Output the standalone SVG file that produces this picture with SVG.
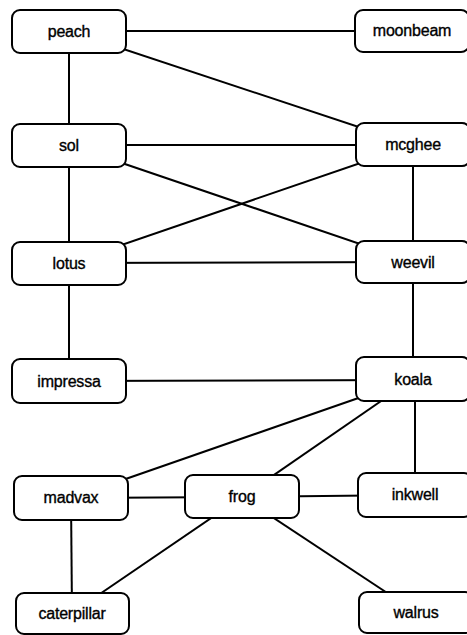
<svg xmlns="http://www.w3.org/2000/svg" width="467" height="635" viewBox="0 0 467 635">
<style>
  .edge { stroke: #000; stroke-width: 2; fill: none; }
  .box { fill: #fff; stroke: #000; stroke-width: 2; }
  .lbl { font-family: "Liberation Sans", Arial, sans-serif; font-size: 16px; fill: #000; stroke: #000; stroke-width: 0.35; text-anchor: middle; letter-spacing: -0.2px; }
</style>
<rect width="467" height="635" fill="#fff"/>
<g id="connectors">
  <line class="edge" x1="69" y1="31" x2="413" y2="31"/>
  <line class="edge" x1="69" y1="31" x2="69" y2="145"/>
  <line class="edge" x1="69" y1="31" x2="413" y2="145"/>
  <line class="edge" x1="69" y1="145" x2="413" y2="145"/>
  <line class="edge" x1="69" y1="145" x2="413" y2="262"/>
  <line class="edge" x1="413" y1="145" x2="69" y2="263"/>
  <line class="edge" x1="69" y1="145" x2="69" y2="263"/>
  <line class="edge" x1="413" y1="145" x2="413" y2="262"/>
  <line class="edge" x1="69" y1="263" x2="413" y2="262"/>
  <line class="edge" x1="69" y1="263" x2="69" y2="381"/>
  <line class="edge" x1="413" y1="262" x2="413" y2="379"/>
  <line class="edge" x1="69" y1="381" x2="413" y2="380"/>
  <line class="edge" x1="413" y1="379" x2="71" y2="498"/>
  <line class="edge" x1="413" y1="379" x2="242" y2="497"/>
  <line class="edge" x1="415" y1="379" x2="415" y2="495"/>
  <line class="edge" x1="71" y1="498" x2="242" y2="497"/>
  <line class="edge" x1="71" y1="498" x2="72" y2="613"/>
  <line class="edge" x1="242" y1="497" x2="72" y2="613"/>
  <line class="edge" x1="242" y1="497" x2="416" y2="495"/>
  <line class="edge" x1="242" y1="497" x2="416" y2="612"/>
</g>
<g id="peach"><rect class="box" x="12" y="10" width="114" height="43" rx="8"/><text class="lbl" x="69" y="37">peach</text></g>
<g id="moonbeam"><rect class="box" x="355" y="10" width="114" height="42" rx="8"/><text class="lbl" x="412" y="36">moonbeam</text></g>
<g id="sol"><rect class="box" x="12" y="124" width="114" height="43" rx="8"/><text class="lbl" x="69" y="151">sol</text></g>
<g id="mcghee"><rect class="box" x="356" y="123" width="114" height="43" rx="8"/><text class="lbl" x="413" y="150">mcghee</text></g>
<g id="lotus"><rect class="box" x="12" y="242" width="114" height="43" rx="8"/><text class="lbl" x="69" y="269">lotus</text></g>
<g id="weevil"><rect class="box" x="356" y="241" width="114" height="42" rx="8"/><text class="lbl" x="413" y="268">weevil</text></g>
<g id="impressa"><rect class="box" x="12" y="359" width="114" height="44" rx="8"/><text class="lbl" x="69" y="387">impressa</text></g>
<g id="koala"><rect class="box" x="356" y="357" width="114" height="44" rx="8"/><text class="lbl" x="413" y="385">koala</text></g>
<g id="madvax"><rect class="box" x="14" y="476" width="114" height="44" rx="8"/><text class="lbl" x="71" y="503">madvax</text></g>
<g id="frog"><rect class="box" x="185" y="475" width="114" height="43" rx="8"/><text class="lbl" x="242" y="502">frog</text></g>
<g id="inkwell"><rect class="box" x="358" y="473" width="114" height="44" rx="8"/><text class="lbl" x="415" y="500">inkwell</text></g>
<g id="caterpillar"><rect class="box" x="16" y="593" width="113" height="41" rx="8"/><text class="lbl" x="72" y="619">caterpillar</text></g>
<g id="walrus"><rect class="box" x="359" y="592" width="114" height="41" rx="8"/><text class="lbl" x="416" y="618">walrus</text></g>
</svg>
